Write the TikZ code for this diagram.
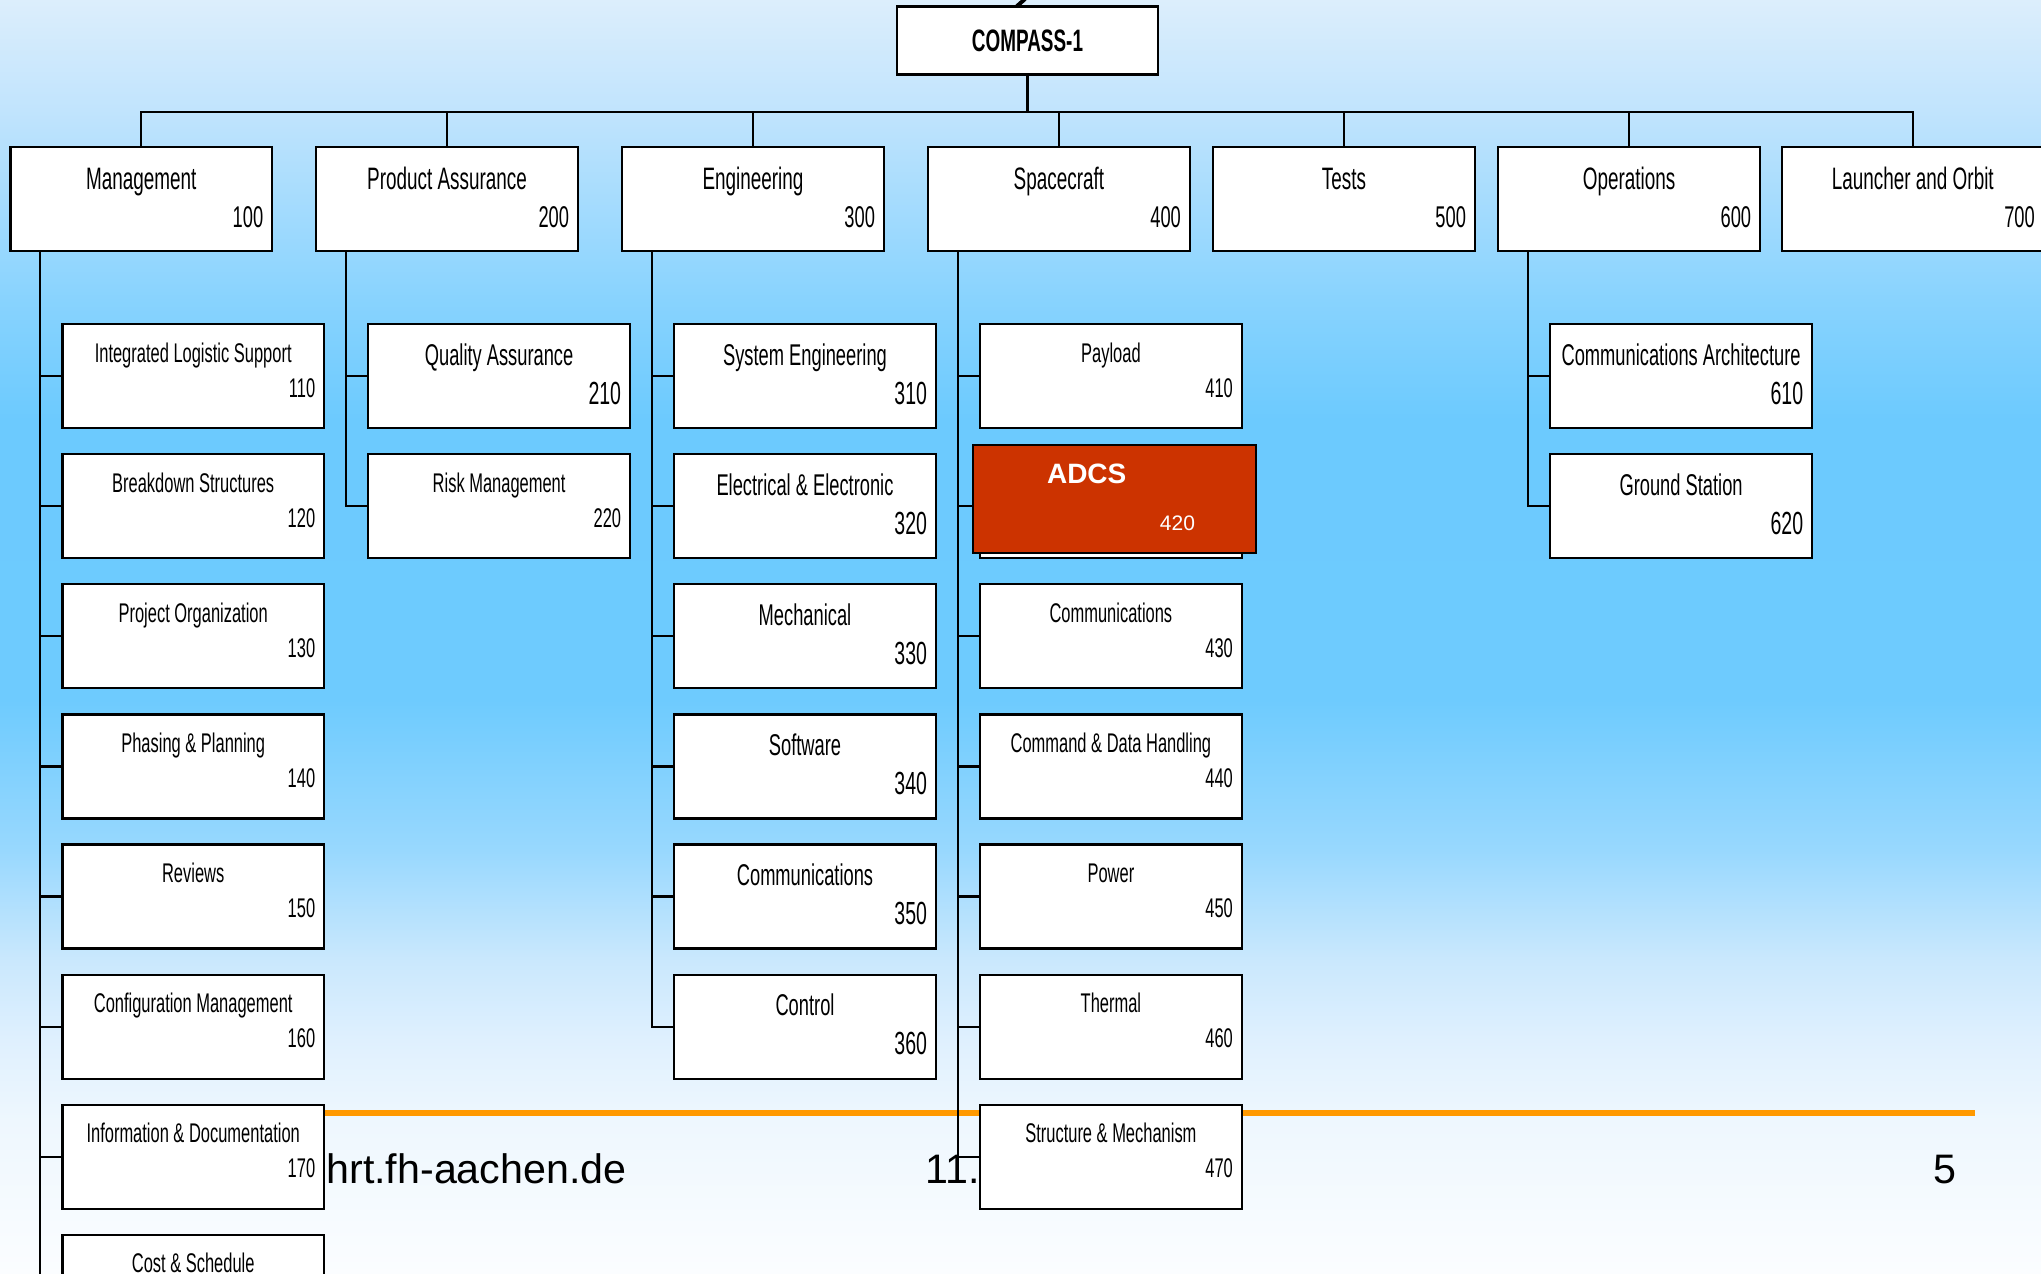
\documentclass[tikz,border=0pt]{standalone}
\usepackage{fontspec}
\setmainfont{Liberation Sans}
\newfontfamily\narrow[FakeStretch=0.61]{Liberation Sans}
\usetikzlibrary{calc}

\definecolor{bgA}{HTML}{DCEEFC}
\definecolor{bgB}{HTML}{C1E4FD}
\definecolor{bgC}{HTML}{88D3FE}
\definecolor{bgD}{HTML}{6CCAFE}
\definecolor{bgE}{HTML}{6ECBFE}
\definecolor{bgF}{HTML}{98D8FE}
\definecolor{bgG}{HTML}{CAE8FD}
\definecolor{bgH}{HTML}{DFF0FE}
\definecolor{bgI}{HTML}{EEF7FE}
\definecolor{bgJ}{HTML}{FBFDFF}
\definecolor{adcsred}{HTML}{CC3300}
\definecolor{footline}{HTML}{FF9900}

\pgfdeclareverticalshading{slidebg}{100bp}{color(0bp)=(bgJ); color(25bp)=(bgJ);
  color(31.04bp)=(bgI); color(34.18bp)=(bgH); color(37.32bp)=(bgG); color(41.64bp)=(bgF);
  color(47.53bp)=(bgE); color(58.52bp)=(bgD); color(63.23bp)=(bgC); color(70.68bp)=(bgB);
  color(75bp)=(bgA); color(100bp)=(bgA)}

\pgfdeclarelayer{back}
\pgfdeclarelayer{wires}
\pgfsetlayers{back,wires,main}

\tikzset{
  box/.style={draw, fill=white, line width=1.1pt, minimum width=130.8pt, minimum height=52pt, inner sep=0pt},
  topbox/.style={minimum width=130.5pt, minimum height=34pt, font=\narrow\bfseries\fontsize{15.5}{18}\selectfont},
  wire/.style={line width=1.1pt},
  lvA title/.style={anchor=base, inner sep=0pt, yshift=-22pt, font=\narrow\fontsize{15.5}{18}\selectfont},
  lvA num/.style={anchor=base east, inner sep=0pt, xshift=-4.75pt, yshift=-41pt, font=\narrow\fontsize{15}{18}\selectfont},
  lvS title/.style={anchor=base, inner sep=0pt, yshift=-19.5pt, font=\narrow\fontsize{13.5}{16}\selectfont},
  lvS num/.style={anchor=base east, inner sep=0pt, xshift=-4.75pt, yshift=-37pt, font=\narrow\fontsize{13.5}{16}\selectfont},
  lvB title/.style={anchor=base, inner sep=0pt, yshift=-21pt, font=\narrow\fontsize{15}{18}\selectfont},
  lvB num/.style={anchor=base east, inner sep=0pt, xshift=-4.75pt, yshift=-40.5pt, font=\narrow\fontsize{16}{19}\selectfont},
  adcs title/.style={anchor=base, inner sep=0pt, text=white, font=\bfseries\fontsize{14}{17}\selectfont},
  adcs num/.style={anchor=base east, inner sep=0pt, text=white, font=\fontsize{10.5}{13}\selectfont},
  foot/.style={anchor=base west, inner sep=0pt, font=\fontsize{20.6}{25}\selectfont}
}

% box with title on top and number bottom right
\newcommand\wbs[5]{%
  \node[box] (#1) at (#2) {};
  \node[#5 title] (#1-t) at (#1.north) {#3};
  \node[#5 num] (#1-n) at (#1.north east) {#4};
}

\begin{document}
\begin{tikzpicture}[x=0.5pt, y=-0.5pt]
  \useasboundingbox (0,0) rectangle (2041,1274);
  \clip (0,0) rectangle (2041,1274);
  \begin{pgfonlayer}{back}
    \shade[shading=slidebg] (0,0) rectangle (2041,1274);
    \draw[footline, line width=3pt] (70,1113) -- (1975,1113);
    \node[foot] (url) at (326,1183) {hrt.fh-aachen.de};
    \node[foot] (date) at (925,1183) {11.};
    \node[foot] (page) at (1933,1183) {5};
  \end{pgfonlayer}
  % tail of the slide title
  \draw[line width=2pt] (1016,7) -- (1025,-1);

  \node[box, topbox] (root) at (1027.5,40.5) {COMPASS-1};

  % first level
  \foreach \nm/\x/\ti/\nu in {m/141.2/Management/100, pa/447.1/Product Assurance/200,
      en/753/Engineering/300, sc/1058.9/Spacecraft/400, ts/1344/Tests/500,
      op/1629.1/Operations/600, lo/1912.8/Launcher and Orbit/700}
  {
    \wbs{\nm}{\x,199}{\ti}{\nu}{lvA}
    \begin{pgfonlayer}{wires}
      \draw[wire] (root.south) -- ++(0,36) -| (\nm.north);
    \end{pgfonlayer}
  }

  % second level
  \foreach \p/\nm/\r/\ti/\nu/\k in {
      m/m1/0/Integrated Logistic Support/110/lvS,
      m/m2/1/Breakdown Structures/120/lvS,
      m/m3/2/Project Organization/130/lvS,
      m/m4/3/Phasing \& Planning/140/lvS,
      m/m5/4/Reviews/150/lvS,
      m/m6/5/Configuration Management/160/lvS,
      m/m7/6/Information \& Documentation/170/lvS,
      m/m8/7/Cost \& Schedule/{}/lvS,
      pa/pa1/0/Quality Assurance/210/lvB,
      pa/pa2/1/Risk Management/220/lvS,
      en/en1/0/System Engineering/310/lvB,
      en/en2/1/Electrical \& Electronic/320/lvB,
      en/en3/2/Mechanical/330/lvB,
      en/en4/3/Software/340/lvB,
      en/en5/4/Communications/350/lvB,
      en/en6/5/Control/360/lvB,
      sc/sc1/0/Payload/410/lvS,
      sc/sc2/1/{}/{}/lvS,
      sc/sc3/2/Communications/430/lvS,
      sc/sc4/3/Command \& Data Handling/440/lvS,
      sc/sc5/4/Power/450/lvS,
      sc/sc6/5/Thermal/460/lvS,
      sc/sc7/6/Structure \& Mechanism/470/lvS,
      op/op1/0/Communications Architecture/610/lvB,
      op/op2/1/Ground Station/620/lvB}
  {
    \wbs{\nm}{$(\p)+(52,{177.1+130.1*\r})$}{\ti}{\nu}{\k}
    \begin{pgfonlayer}{wires}
      \draw[wire] ([xshift=15.5pt]\p.south west) |- (\nm.west);
    \end{pgfonlayer}
  }

  % highlighted work package
  \node[box, fill=adcsred, minimum width=141.5pt, minimum height=54pt] (adcs) at (1114.5,499) {};
  \node[adcs title] (adcs-t) at ([xshift=-13.9pt, yshift=-20pt]adcs.north) {ADCS};
  \node[adcs num] (adcs-n) at ([xshift=-30.85pt, yshift=-43.35pt]adcs.north east) {420};
\end{tikzpicture}
\end{document}
